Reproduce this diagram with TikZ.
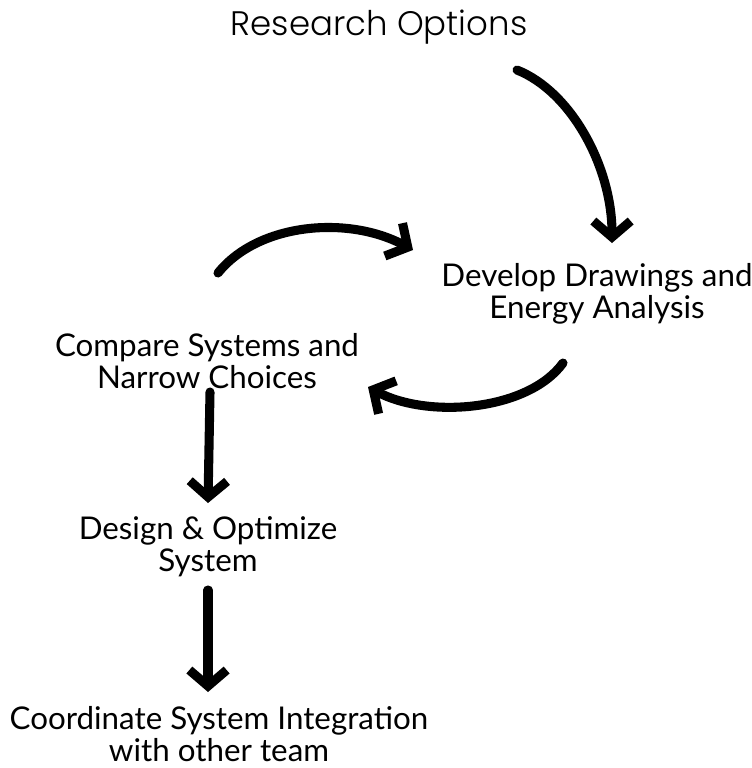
\documentclass[tikz,border=0pt]{standalone}
\usepackage{fontspec}
\setmainfont{Lato}
\newfontfamily\headfont{Poppins}[UprightFont=* Light]
\usetikzlibrary{arrows.meta,calc}

\tikzset{
  stage/.style={align=center, font=\fontsize{23.5}{24}\selectfont, inner sep=0pt},
  flow/.style={line width=6.8pt, line cap=round,
    -{Straight Barb[length=12pt,width=28pt,line width=6.8pt]}}
}

\begin{document}
\begin{tikzpicture}[x=0.75pt,y=-0.75pt]
  \useasboundingbox (0,0) rectangle (752,768);

  % the steps
  \node[stage, font=\headfont\fontsize{25.5}{26}\selectfont] (options) at (379,27) {Research Options};
  \node[stage] (develop) at (597,294) {Develop Drawings and\\Energy Analysis};
  \node[stage] (compare) at (207,361) {Compare Systems and\\Narrow Choices};
  \node[stage] (design) at (208,547) {Design \& Optimize\\System};
  \node[stage] (coord) at (219,734) {Coordinate System Integration\\with other team};

  % curved arrows of the loop
  \draw[flow] ($(options.center)+(138,43)$) .. controls +(55,22) and +(0,-75) .. ($(develop.center)+(15,-51)$);
  \draw[flow] ($(compare.center)+(11,-88)$) .. controls +(40,-50) and +(-65,-35) .. ($(develop.center)+(-184,-44)$);
  \draw[flow] ($(develop.center)+(-34,69)$) .. controls +(-35,48) and +(60,32) .. ($(compare.center)+(161,26)$);

  % straight arrows down
  \draw[flow] ($(compare.center)+(3,31)$) -- ($(design.center)+(0,-44)$);
  \draw[flow] ($(design.center)+(0,43)$) -- ($(coord.center)+(-11,-42)$);
\end{tikzpicture}
\end{document}
